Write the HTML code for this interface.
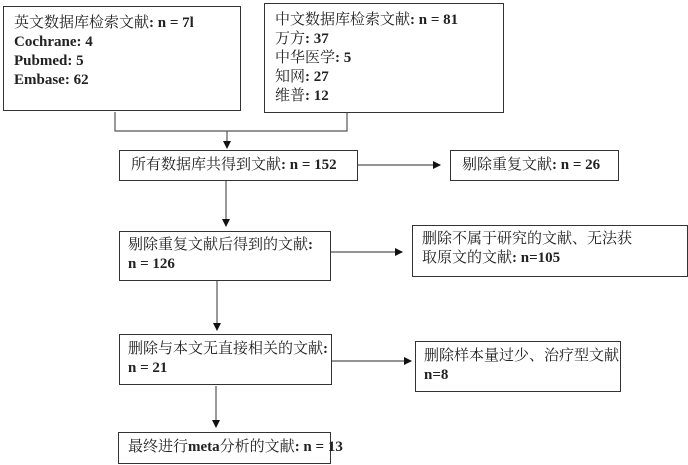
<!DOCTYPE html>
<html><head><meta charset="utf-8"><style>
body{margin:0;width:688px;height:465px;background:#fff;position:relative;overflow:hidden;font-family:"Liberation Serif","Noto Serif CJK SC",serif;font-size:15px;color:#222}
.b{position:absolute;border:1.5px solid #333;box-sizing:border-box;background:#fff}
.t{position:absolute;line-height:19px;white-space:nowrap}
b{font-weight:bold}
</style></head><body>
<svg width="688" height="465" style="position:absolute;left:0;top:0">
<defs><marker id="a" markerWidth="8" markerHeight="8" refX="7" refY="4" orient="auto" markerUnits="userSpaceOnUse"><path d="M0,0L8,4L0,8z" fill="#111"/></marker></defs>
<g stroke="#555" stroke-width="1.2" fill="none">
<path d="M115,112V131H347V112"/>
<path d="M227,131V148" marker-end="url(#a)"/>
<path d="M357,165H440" marker-end="url(#a)"/>
<path d="M226,180V226" marker-end="url(#a)"/>
<path d="M331,252H402" marker-end="url(#a)"/>
<path d="M217,280V330" marker-end="url(#a)"/>
<path d="M332,361H411" marker-end="url(#a)"/>
<path d="M216,386V427" marker-end="url(#a)"/>
</g></svg>
<div class="b" style="left:3px;top:6px;width:238px;height:105px"></div>
<div class="t" style="left:14px;top:14px">英文数据库检索文献<b>: n = 7l<br>Cochrane: 4<br>Pubmed: 5<br>Embase: 62</b></div>
<div class="b" style="left:264px;top:3px;width:240px;height:110px"></div>
<div class="t" style="left:275px;top:11px">中文数据库检索文献<b>: n = 81</b><br>万方<b>: 37</b><br>中华医学<b>: 5</b><br>知网<b>: 27</b><br>维普<b>: 12</b></div>
<div class="b" style="left:119px;top:150px;width:239px;height:31px"></div>
<div class="t" style="left:131px;top:156px">所有数据库共得到文献<b>: n = 152</b></div>
<div class="b" style="left:450px;top:150px;width:169px;height:31px"></div>
<div class="t" style="left:462px;top:156px">剔除重复文献<b>: n = 26</b></div>
<div class="b" style="left:119px;top:231px;width:212px;height:50px"></div>
<div class="t" style="left:128px;top:236px">剔除重复文献后得到的文献<b>:<br>n = 126</b></div>
<div class="b" style="left:412px;top:225px;width:276px;height:52px"></div>
<div class="t" style="left:422px;top:230px">删除不属于研究的文献、无法获<br>取原文的文献<b>: n=105</b></div>
<div class="b" style="left:119px;top:334px;width:213px;height:51px"></div>
<div class="t" style="left:128px;top:340px">删除与本文无直接相关的文献<b>:<br>n = 21</b></div>
<div class="b" style="left:415px;top:341px;width:206px;height:51px"></div>
<div class="t" style="left:424px;top:347px">删除样本量过少、治疗型文献<br><b>n=8</b></div>
<div class="b" style="left:118px;top:432px;width:213px;height:32px"></div>
<div class="t" style="left:128px;top:438px">最终进行<b>meta</b>分析的文献<b>: n = 13</b></div>
</body></html>
